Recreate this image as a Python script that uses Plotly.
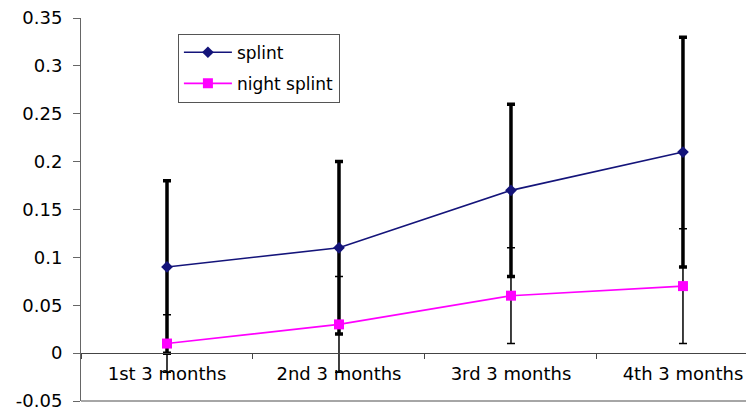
import plotly.graph_objects as go

categories = ["1st 3 months", "2nd 3 months", "3rd 3 months", "4th 3 months"]
splint = [0.09, 0.11, 0.17, 0.21]
splint_err = [0.09, 0.09, 0.09, 0.12]
night_splint = [0.01, 0.03, 0.06, 0.07]
night_splint_err = [0.03, 0.05, 0.05, 0.06]
y_tick_vals = [-0.05, 0, 0.05, 0.1, 0.15, 0.2, 0.25, 0.3, 0.35]
y_tick_labels = ["-0.05", "0", "0.05", "0.1", "0.15", "0.2", "0.25", "0.3", "0.35"]

FONT = "DejaVu Sans"

fig = go.Figure()
fig.add_trace(go.Scatter(
    x=categories, y=splint, name="splint", mode="lines+markers",
    line=dict(color="#14147a", width=1.6),
    marker=dict(symbol="diamond", size=9, color="#14147a"),
    error_y=dict(type="data", array=splint_err, visible=True,
                 color="black", thickness=3.5, width=4),
    legendgroup="a",
))
fig.add_trace(go.Scatter(
    x=categories, y=night_splint, name="night splint", mode="lines+markers",
    line=dict(color="#ff00ff", width=1.6),
    marker=dict(symbol="square", size=10, color="#ff00ff"),
    error_y=dict(type="data", array=night_splint_err, visible=True,
                 color="black", thickness=1.5, width=4),
    legendgroup="b",
))

# page body has an 8px default margin, so the figure is sized/offset to compensate
fig.update_layout(
    width=746, height=400,
    margin=dict(l=73, r=0, t=10, b=7),
    paper_bgcolor="white", plot_bgcolor="white",
    font=dict(family=FONT, size=18, color="black"),
    showlegend=True,
    legend=dict(
        x=0.144, y=0.959, xanchor="left", yanchor="top",
        bordercolor="#555555", borderwidth=1, bgcolor="white",
        font=dict(family=FONT, size=17, color="black"),
        traceorder="grouped", tracegroupgap=6,
        itemwidth=48,
    ),
    xaxis=dict(
        type="category", range=[-0.5, 3.413], automargin=False,
        anchor="free", position=0.125,
        showline=True, linecolor="#444444", linewidth=1,
        ticks="outside", tickson="boundaries", ticklen=5, tickcolor="#444444",
        showgrid=False, zeroline=False,
        tickfont=dict(family=FONT, size=18, color="black"),
        ticklabelstandoff=4,
    ),
    yaxis=dict(
        range=[-0.05, 0.35], tickvals=y_tick_vals, ticktext=y_tick_labels,
        automargin=False,
        showline=True, linecolor="#666666", linewidth=1,
        ticks="outside", ticklen=7, tickcolor="#666666",
        showgrid=False, zeroline=False,
        tickfont=dict(family=FONT, size=18, color="black"),
        ticklabelstandoff=7, ticklabeloverflow="allow",
    ),
    shapes=[dict(type="line", xref="paper", yref="paper", x0=0, x1=1, y0=0, y1=0,
                 line=dict(color="#888888", width=1.5))],
)

fig.write_html("out.html")
